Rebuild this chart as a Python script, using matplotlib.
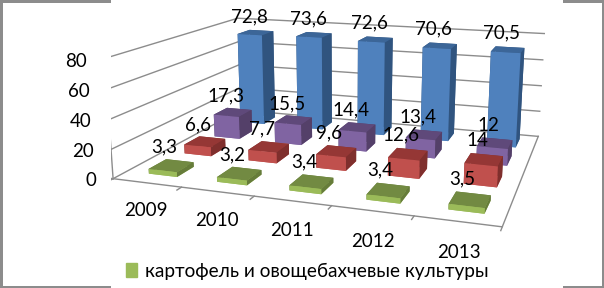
import numpy as np
import matplotlib
matplotlib.use('Agg')
import matplotlib.pyplot as plt
from matplotlib.patches import Patch

years = ['2009', '2010', '2011', '2012', '2013']
z_ticks = [0, 20, 40, 60, 80]
potato = [3.3, 3.2, 3.4, 3.4, 3.5]
red_vals = [6.6, 7.7, 9.6, 12.6, 14]
purple_vals = [17.3, 15.5, 14.4, 13.4, 12]
blue_vals = [72.8, 73.6, 72.6, 70.6, 70.5]
legend_label = 'картофель и овощебахчевые культуры'

# front, top, side colours for each series, back row first
series = [
    (blue_vals, '#4f81bd', '#3c6698', '#30547f', 3.5, 2),
    (purple_vals, '#8064a2', '#5f497a', '#544069', 2.55, 3),
    (red_vals, '#c0504d', '#953735', '#7f2f2d', 1.58, 4),
    (potato, '#9bbb59', '#728a42', '#667c3a', 0.58, 5),
]

plt.rcParams['font.family'] = ['Lato', 'DejaVu Sans']
grey = '#8c8c8c'

fig = plt.figure(figsize=(6.04, 2.88), dpi=100)
fig.patch.set_facecolor('white')
fig.patch.set_edgecolor(grey)
fig.patch.set_linewidth(3.6)

# numbers fitted to the corners of the floor and walls in the reference
ax = fig.add_axes([110.7/604, -45.64/288, 452.5/604, 452.5/288], projection='3d')
ax.set_xlim(0, 5, view_margin=0)
ax.set_ylim(0, 4, view_margin=0)
ax.set_zlim(0, 80, view_margin=0)
ax.view_init(elev=13.78, azim=-71.17)
ax.set_proj_type('persp', focal_length=0.3373)
ax.set_box_aspect((1, 0.7547, 0.3164))
ax.set_axis_off()
ax.computed_zorder = False

for t in z_ticks:
    ax.plot([0, 0, 5], [0, 4, 4], [t, t, t], color=grey, lw=1, zorder=1)
    ax.plot([-0.06, 0], [0, 0], [t, t], color=grey, lw=1, zorder=1)
    ax.text(-0.26, 0, t - 2.5, str(t), fontsize=13.5, ha='right', va='center', color='black', zorder=10)
ax.plot([0, 0], [0, 0], [0, 80], color=grey, lw=1, zorder=1)
ax.plot([0, 5, 5], [0, 0, 4], [0, 0, 0], color=grey, lw=1, zorder=1)
for i in range(6):
    ax.plot([i, i], [0, -0.12], [0, 0], color=grey, lw=1, zorder=1)
for i, year in enumerate(years):
    ax.text(i + 0.56, -0.17, -15.5, year, fontsize=13.5, ha='center', va='center', color='black', zorder=10)

w = 0.42
d = 0.47
for vals, front, top, side, yc, zo in series:
    vals = np.array(vals, dtype=float)
    xs = np.arange(len(vals)) + 0.54 - w/2
    # bar3d faces run -z, +z, -y, +y, -x, +x
    colors = [front, top, front, side, side, side] * len(vals)
    ax.bar3d(xs, np.full(len(vals), yc - d/2), np.zeros(len(vals)), w, d, vals,
             color=colors, shade=False, linewidth=0, zorder=zo)
    for x, v in zip(xs, vals):
        ax.text(x + w/2 - 0.1, yc, v + 12.5, str(v if v % 1 else int(v)).replace('.', ','),
                fontsize=13.5, ha='center', va='center', color='black', zorder=10)

fig.legend(handles=[Patch(color='#9bbb59', label=legend_label)], loc='center',
           bbox_to_anchor=(307/604, 17/288), frameon=False, fontsize=13.7,
           handlelength=0.6, handleheight=0.7, handletextpad=0.4)

fig.savefig('out.png', dpi=100, facecolor=fig.get_facecolor(), edgecolor=fig.get_edgecolor())
